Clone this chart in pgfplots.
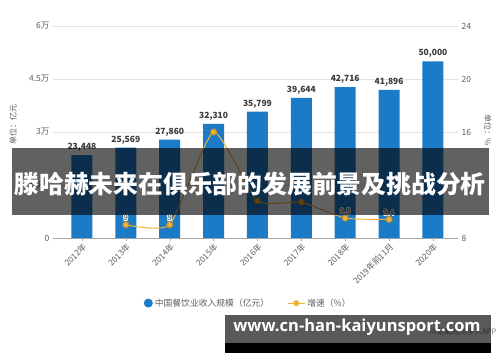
\documentclass[border=0pt]{standalone}
\usepackage{pgfplots}
\pgfplotsset{compat=1.18}
\usepackage{fontspec}
\usepackage{contour}
\contourlength{0.7pt}
\setmainfont{Noto Sans CJK SC}
\newfontfamily\wfont{Open Sans}
\definecolor{barblue}{HTML}{1B7BC6}
\definecolor{lineyel}{HTML}{EDB33B}
\definecolor{txtgray}{HTML}{5F5F5F}
\definecolor{gridgray}{HTML}{E2E2E2}
\definecolor{lbldark}{HTML}{3A3A3A}
\begin{document}
\begin{tikzpicture}
\path[use as bounding box, fill=white] (0pt,0pt) rectangle (500pt,362pt);
\begin{axis}[
  at={(53pt,124pt)}, anchor=south west, scale only axis,
  width=405pt, height=212pt,
  /pgf/number format/assume math mode=true,
  scaled y ticks=false,
  xmin=-0.66, xmax=8.57, ymin=0, ymax=60000,
  axis x line*=bottom, axis y line*=left,
  y axis line style={draw=none},
  x axis line style={draw=gray!70},
  ytick={0,15000,30000,45000,60000},
  yticklabels={0,1.5万,3万,4.5万,6万},
  ytick style={draw=none},
  yticklabel style={font=\fontsize{8.5}{9}\selectfont, text=txtgray},
  ymajorgrids, grid style={gridgray, line width=0.6pt},
  xtick={0,...,8},
  xticklabels={2012年,2013年,2014年,2015年,2016年,2017年,2018年,2019年前11月,2020年},
  xtick align=outside, major tick length=3pt,
  xtick style={draw=gray!70},
  x tick label style={rotate=45, anchor=north east, font=\fontsize{8.3}{9}\selectfont, text=txtgray, inner sep=1pt},
  legend style={at={(0.482,-0.307)}, anchor=center, draw=none, legend columns=2,
    font=\fontsize{8.8}{9}\selectfont, text=txtgray,
    /tikz/every even column/.append style={column sep=16pt}},
]
\addplot[ybar, bar width=21pt, fill=barblue, draw=none,
  nodes near coords,
  nodes near coords style={font=\fontsize{8.5}{9}\selectfont\bfseries, text=lbldark,
    /pgf/number format/.cd, fixed, 1000 sep={,}},
  legend image code/.code={\fill[barblue] (0.2cm,0) circle (4.5pt);}]
coordinates {(0,23448) (1,25569) (2,27860) (3,32310) (4,35799) (5,39644) (6,42716) (7,41896) (8,50000)};
\addlegendentry{中国餐饮业收入规模（亿元）}
\addlegendimage{lineyel, line width=1pt, mark=*, mark size=2.5pt}
\addlegendentry{增速（\%）}
\end{axis}
\begin{axis}[
  at={(53pt,124pt)}, anchor=south west, scale only axis,
  width=405pt, height=212pt,
  /pgf/number format/assume math mode=true,
  xmin=-0.66, xmax=8.57, ymin=8, ymax=24,
  axis x line=none, axis y line*=right,
  y axis line style={draw=none},
  ytick={8,12,16,20,24},
  ytick style={draw=none},
  yticklabel style={font=\fontsize{8.5}{9}\selectfont, text=txtgray},
]
\addplot[lineyel, line width=1pt, smooth, tension=0.3, mark=*, mark size=3pt,
  mark options={fill=lineyel, draw=lineyel!80!black},
  point meta=explicit symbolic, nodes near coords,
  nodes near coords style={font=\fontsize{7.8}{8}\selectfont, text=lbldark, inner sep=1.5pt, yshift=1pt}]
coordinates {(1,9)[\contour{white}{9}] (2,9)[\contour{white}{9}] (3,16)[] (4,10.8)[] (5,10.7)[] (6,9.5)[\contour{white}{9.5}] (7,9.4)[\contour{white}{9.4}]};
\end{axis}
\node[rotate=90, font=\fontsize{8}{9}\selectfont, text=txtgray] at (13pt,237pt) {单位：亿元};
\node[rotate=-90, font=\fontsize{8}{9}\selectfont, text=txtgray] at (488pt,232pt) {单位：\%};
% title overlay
\fill[black, opacity=0.62] (12pt,147pt) rectangle (489pt,214pt);
\node[font=\fontsize{24.8}{26}\selectfont\bfseries, text=white] at (250pt,178pt) {滕哈赫未来在俱乐部的发展前景及挑战分析};
% footer
\node[anchor=east, font=\fontsize{7.5}{8}\selectfont, text=gray] at (500pt,30pt) {©前瞻经济学人APP};
\fill[black, opacity=0.65] (225pt,9pt) rectangle (491pt,47pt);
\fill[black] (225pt,9pt) rectangle (491pt,19pt);
\node[font=\wfont\fontsize{16.5}{17}\selectfont\bfseries, text=white] at (357pt,35pt) {www.cn-han-kaiyunsport.com};
\end{tikzpicture}
\end{document}
